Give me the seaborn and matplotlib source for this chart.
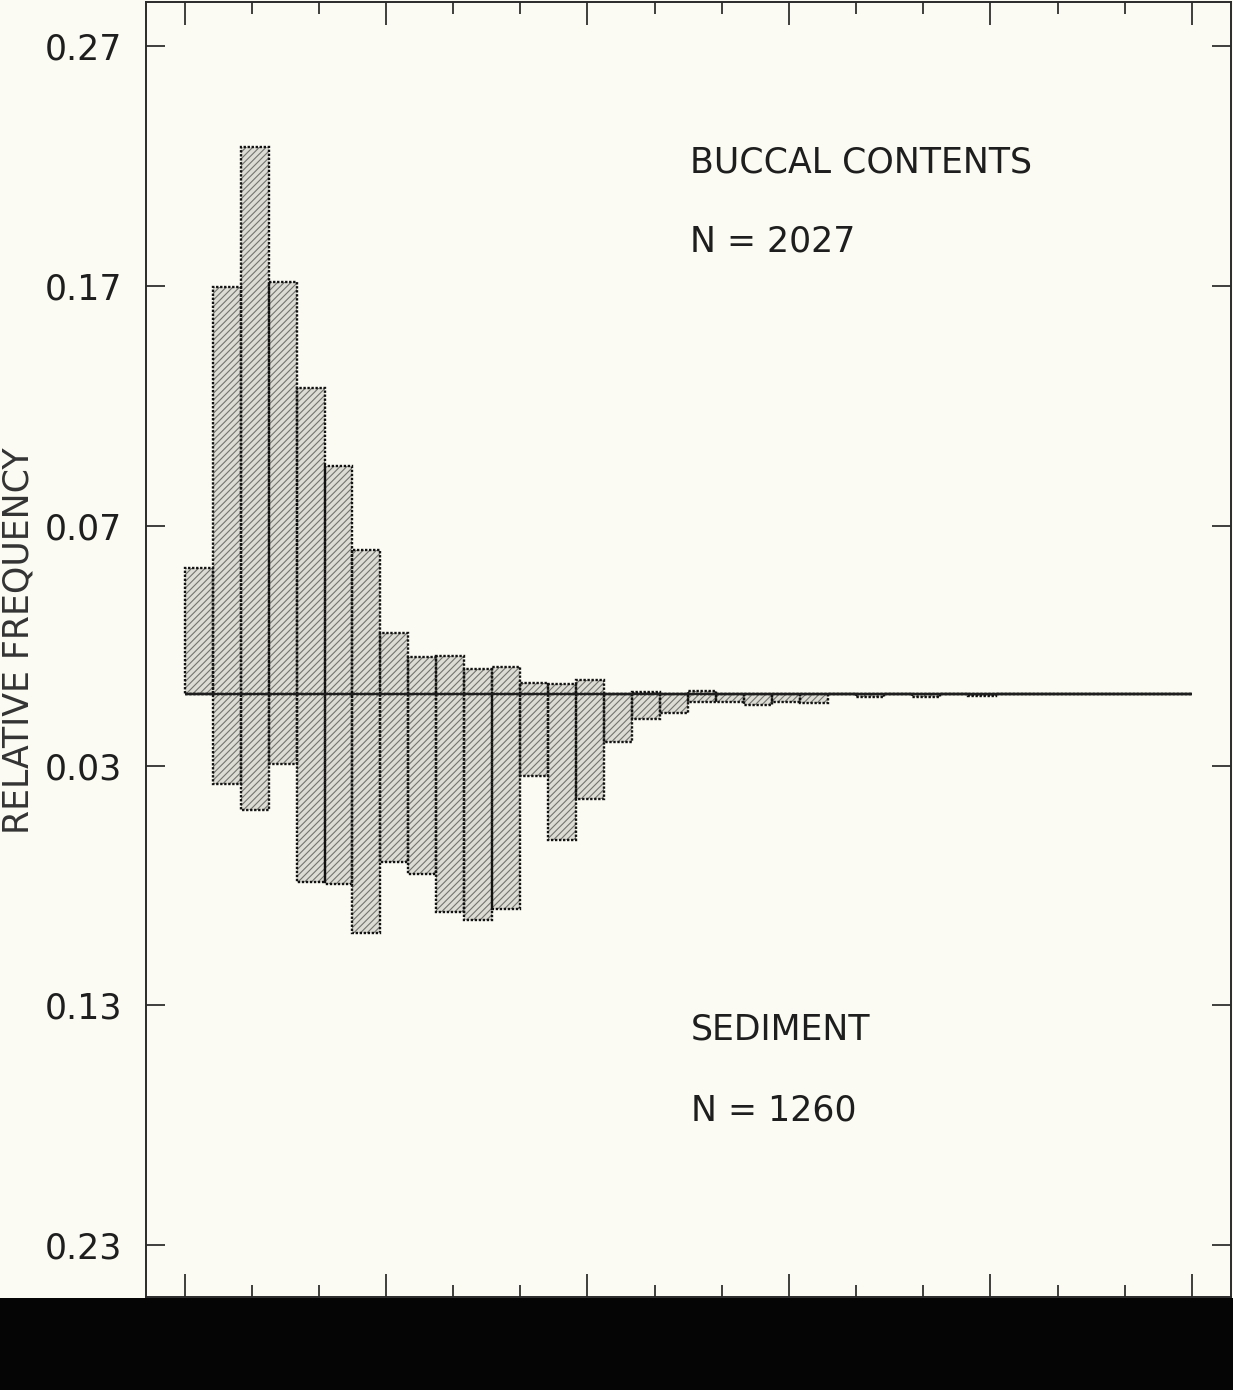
import matplotlib
matplotlib.use("Agg")
import matplotlib.pyplot as plt
from matplotlib.patches import Rectangle
import seaborn as sns
import pandas as pd
import numpy as np

# ---------------- data (relative frequency per size bin) ----------------
bins = list(range(36))
buccal = [0.0523, 0.1694, 0.2279, 0.1716, 0.1276, 0.0949, 0.0598, 0.0253,
          0.0153, 0.0158, 0.0101, 0.0110, 0.0044, 0.0039, 0.0058, 0.0000,
          0.0008, 0.0000, 0.0012, 0.0000, 0.0000, 0.0000, 0.0000, 0.0000,
          0.0000, 0.0000, 0.0000, 0.0000, 0.0000, 0.0000, 0.0000, 0.0000,
          0.0000, 0.0000, 0.0000, 0.0000]
sediment = [0.0000, 0.0378, 0.0485, 0.0295, 0.0784, 0.0794, 0.1000, 0.0701,
            0.0752, 0.0912, 0.0944, 0.0900, 0.0345, 0.0611, 0.0438, 0.0201,
            0.0107, 0.0080, 0.0036, 0.0034, 0.0048, 0.0036, 0.0038, 0.0000,
            0.0013, 0.0000, 0.0013, 0.0000, 0.0008, 0.0000, 0.0000, 0.0000,
            0.0000, 0.0000, 0.0000, 0.0000]
ytick_values = [0.27, 0.17, 0.07, -0.03, -0.13, -0.23]
ytick_labels = ["0.27", "0.17", "0.07", "0.03", "0.13", "0.23"]
top_label = "BUCCAL CONTENTS"
top_n = "N = 2027"
bottom_label = "SEDIMENT"
bottom_n = "N = 1260"
ylabel = "RELATIVE FREQUENCY"

df = pd.DataFrame({"bin": bins, "buccal": buccal,
                   "sediment": [-v for v in sediment]})

# ---------------- style ----------------
sns.set_style("ticks")
plt.rcParams["font.family"] = ["DejaVu Sans"]
plt.rcParams["hatch.linewidth"] = 0.8

BG = "#fbfbf3"
INK = "#1e1e1e"
FS = 25

fig = plt.figure(figsize=(12.33, 13.9), dpi=100, facecolor=BG)
ax = fig.add_axes([146 / 1233, 93 / 1390, 1085 / 1233, 1295 / 1390])
ax.set_facecolor(BG)

order = bins
for col in ["buccal", "sediment"]:
    # hatched fill layer
    sns.barplot(data=df, x="bin", y=col, order=order, width=1.0,
                color="#dcdcd4", saturation=1, errorbar=None, ax=ax,
                edgecolor="#74746f", linewidth=0)
for p in ax.patches:
    p.set_hatch("/////")
for col in ["buccal", "sediment"]:
    # dotted outline layer
    sns.barplot(data=df, x="bin", y=col, order=order, width=1.0,
                color="#111111", saturation=1, errorbar=None, ax=ax,
                fill=False, linewidth=1.7, linestyle=(0, (1, 0.7)))

# zero baseline across all bins
ax.hlines(0, -0.5, len(bins) - 0.5, color=INK, lw=1.6, zorder=5)

# ---------------- axes ----------------
ax.set_xlim(-1.88, 36.90)
ax.set_ylim(-0.2516, 0.2884)

tick_pos = [-0.5 + 2.4 * k for k in range(16)]
ax.set_xticks([t for i, t in enumerate(tick_pos) if i % 3 == 0])
ax.set_xticks([t for i, t in enumerate(tick_pos) if i % 3 != 0], minor=True)
ax.tick_params(axis="x", which="major", direction="in", length=16.5, width=1.2,
               top=True, bottom=True, labelbottom=False, labeltop=False, color=INK)
ax.tick_params(axis="x", which="minor", direction="in", length=8.5, width=1.2,
               top=True, bottom=True, color=INK)

ax.set_yticks(ytick_values)
ax.set_yticklabels(ytick_labels)
ax.tick_params(axis="y", direction="in", length=14, width=1.2, left=True,
               right=True, labelsize=FS, pad=17, labelcolor=INK, color=INK)

ax.set_xlabel("")
ax.set_ylabel(ylabel, fontsize=FS, color="#333333", va="center")
ax.yaxis.set_label_coords(-0.1175, 0.507)

for s in ax.spines.values():
    s.set_visible(True)
    s.set_linewidth(1.4)
    s.set_color("#2a2a2a")

# annotations
ax.text(0.5014, 0.8757, top_label, transform=ax.transAxes, fontsize=FS,
        ha="left", va="center", color=INK)
ax.text(0.5014, 0.8147, top_n, transform=ax.transAxes, fontsize=FS,
        ha="left", va="center", color=INK)
ax.text(0.5023, 0.2062, bottom_label, transform=ax.transAxes, fontsize=FS,
        ha="left", va="center", color=INK)
ax.text(0.5023, 0.1444, bottom_n, transform=ax.transAxes, fontsize=FS,
        ha="left", va="center", color=INK)

# dark band at bottom of the image
fig.add_artist(Rectangle((0, 0), 1, 92 / 1390, transform=fig.transFigure,
                         facecolor="#050505", edgecolor="none"))

fig.savefig("out.png", dpi=100, facecolor=BG)
